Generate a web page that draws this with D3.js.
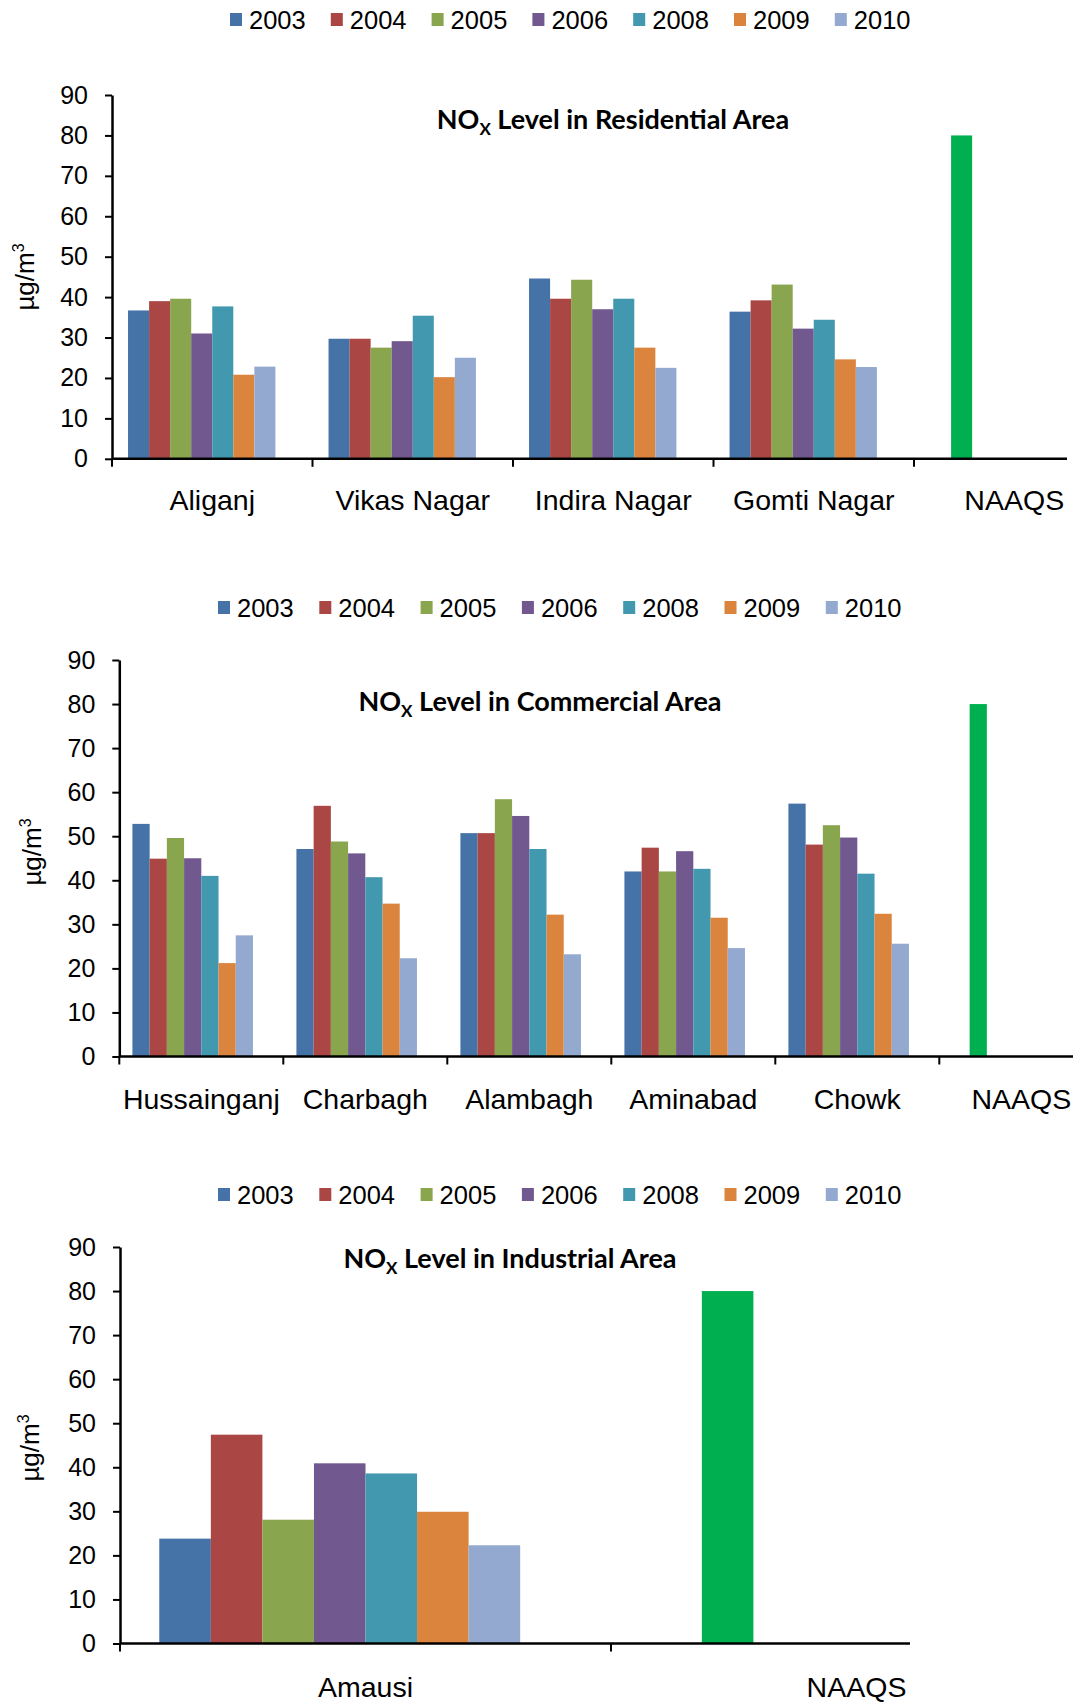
<!DOCTYPE html>
<html>
<head>
<meta charset="utf-8">
<script src="https://cdn.jsdelivr.net/npm/d3@7"></script>
<style>
  html, body { margin: 0; padding: 0; background: #fff; }
  svg { display: block; }
  .tick-label, .cat-label, .legend-label, .unit-label { font-family: "Liberation Sans", Arial, sans-serif; fill: #000; }
  .chart-title { font-family: Lato, "Open Sans", sans-serif; font-weight: 700; fill: #000; }
</style>
</head>
<body>
<svg id="fig" width="1081" height="1708"></svg>
<script>
// Monitoring years and their bar colours
const years = ["2003", "2004", "2005", "2006", "2008", "2009", "2010"];
const yearColors = ["#4572A7", "#AA4643", "#89A54E", "#71588F", "#4198AF", "#DB843D", "#93A9CF"];

// National Ambient Air Quality Standard for NOx (µg/m3)
const naaqsLabel = "NAAQS";
const naaqsLimit = 80;
const naaqsColor = "#00B050";

const yTicks = [0, 10, 20, 30, 40, 50, 60, 70, 80, 90];

// Residential monitoring sites, one row per site, one value per year
const residentialSites = ["Aliganj", "Vikas Nagar", "Indira Nagar", "Gomti Nagar"];
const residentialNOx = [
  [36.7, 39.0, 39.6, 31.0, 37.7, 20.8, 22.8],
  [29.7, 29.7, 27.5, 29.1, 35.4, 20.2, 25.0],
  [44.6, 39.6, 44.3, 37.0, 39.6, 27.5, 22.5],
  [36.4, 39.2, 43.1, 32.2, 34.4, 24.6, 22.7]
];

// Commercial monitoring sites
const commercialSites = ["Hussainganj", "Charbagh", "Alambagh", "Aminabad", "Chowk"];
const commercialNOx = [
  [52.8, 44.9, 49.6, 45.0, 41.0, 21.2, 27.5],
  [47.1, 56.9, 48.8, 46.1, 40.7, 34.7, 22.3],
  [50.7, 50.7, 58.4, 54.6, 47.1, 32.2, 23.2],
  [42.0, 47.4, 42.0, 46.6, 42.6, 31.5, 24.6],
  [57.4, 48.1, 52.5, 49.7, 41.5, 32.4, 25.6]
];

// Industrial monitoring site
const industrialSites = ["Amausi"];
const industrialNOx = [
  [23.8, 47.4, 28.1, 40.9, 38.6, 29.9, 22.3]
];

// Panel layout (pixel geometry of each of the three stacked charts)
const panels = [
  { area: "Residential", sites: residentialSites, values: residentialNOx,
    left: 112, step: 200.5, top: 95, base: 458.8, axisEnd: 1067,
    legendX: 230, legendStep: 100.8, legendY: 20,
    titleX: 613, titleY: 129, unitX: 25, unitY: 277, catOffset: 51 },
  { area: "Commercial", sites: commercialSites, values: commercialNOx,
    left: 119.3, step: 164, top: 660, base: 1056.5, axisEnd: 1073,
    legendX: 218, legendStep: 101.3, legendY: 608,
    titleX: 540, titleY: 711, unitX: 32, unitY: 852, catOffset: 52.5 },
  { area: "Industrial", sites: industrialSites, values: industrialNOx,
    left: 120, step: 491, top: 1247, base: 1643.5, axisEnd: 910,
    legendX: 218, legendStep: 101.3, legendY: 1195,
    titleX: 510, titleY: 1268, unitX: 30, unitY: 1448, catOffset: 53.5 }
];

const svg = d3.select("#fig");
const slots = d3.range(years.length + 1); // seven years plus the standard's slot

panels.forEach(p => {
  const g = svg.append("g");
  const categories = p.sites.concat([naaqsLabel]);

  const x = d3.scaleBand()
    .domain(categories)
    .range([p.left, p.left + categories.length * p.step])
    .paddingInner(0).paddingOuter(0);
  const bw = x.bandwidth();
  const xs = d3.scaleBand()
    .domain(slots)
    .range([bw * 0.08, bw * 0.92])
    .padding(0);
  const y = d3.scaleLinear().domain([0, 90]).range([p.base, p.top]);

  // Bars for each site and year
  p.sites.forEach((site, si) => {
    g.append("g").selectAll("rect")
      .data(p.values[si])
      .join("rect")
      .attr("x", (v, i) => x(site) + xs(i))
      .attr("y", v => y(v))
      .attr("width", xs.bandwidth())
      .attr("height", v => y(0) - y(v))
      .attr("fill", (v, i) => yearColors[i]);
  });

  // Standard limit bar
  g.append("rect")
    .attr("x", x(naaqsLabel) + xs(1))
    .attr("y", y(naaqsLimit))
    .attr("width", xs.bandwidth())
    .attr("height", y(0) - y(naaqsLimit))
    .attr("fill", naaqsColor);

  // Y axis
  const yAxis = g.append("g")
    .attr("transform", `translate(${p.left},0)`)
    .call(d3.axisLeft(y).tickValues(yTicks).tickSize(7).tickPadding(17).tickSizeOuter(0));
  yAxis.select(".domain").attr("stroke", "#000").attr("stroke-width", 2.5);
  yAxis.selectAll(".tick line").attr("stroke", "#000").attr("stroke-width", 2);
  yAxis.selectAll(".tick text").attr("class", "tick-label").style("font-size", "25px");

  // X axis with category labels at band centres
  const xAxis = g.append("g")
    .attr("transform", `translate(0,${p.base})`)
    .call(d3.axisBottom(x).tickSize(0).tickPadding(p.catOffset - 20));
  xAxis.select(".domain")
    .attr("d", `M${p.left},0H${p.axisEnd}`)
    .attr("stroke", "#000").attr("stroke-width", 2.5);
  xAxis.selectAll(".tick text").attr("class", "cat-label").style("font-size", "28.5px");

  // Tick marks at category boundaries
  xAxis.append("g").selectAll("line")
    .data(categories)
    .join("line")
    .attr("x1", c => x(c)).attr("x2", c => x(c))
    .attr("y1", 0).attr("y2", 8)
    .attr("stroke", "#000").attr("stroke-width", 2);

  // Legend
  const leg = g.append("g").selectAll("g")
    .data(years)
    .join("g")
    .attr("transform", (d, i) => `translate(${p.legendX + i * p.legendStep},${p.legendY})`);
  leg.append("rect")
    .attr("x", 0).attr("y", -7).attr("width", 12).attr("height", 13)
    .attr("fill", (d, i) => yearColors[i]);
  leg.append("text")
    .attr("class", "legend-label")
    .attr("x", 19).attr("y", 0).attr("dy", "0.36em")
    .style("font-size", "25.5px")
    .text(d => d);

  // Chart title with subscript x
  const title = g.append("text")
    .attr("class", "chart-title")
    .attr("x", p.titleX).attr("y", p.titleY)
    .attr("text-anchor", "middle")
    .style("font-size", "27px");
  title.append("tspan").text("NO");
  title.append("tspan").attr("dy", 6).style("font-size", "17px").text("X");
  title.append("tspan").attr("dy", -6).text(` Level in ${p.area} Area`);

  // Unit label
  const unit = g.append("text")
    .attr("class", "unit-label")
    .attr("transform", `translate(${p.unitX},${p.unitY}) rotate(-90)`)
    .attr("text-anchor", "middle")
    .attr("dy", "0.35em")
    .style("font-size", "26px");
  unit.append("tspan").text("µg/m");
  unit.append("tspan").attr("dy", -10).style("font-size", "16px").text("3");
});
</script>
</body>
</html>
